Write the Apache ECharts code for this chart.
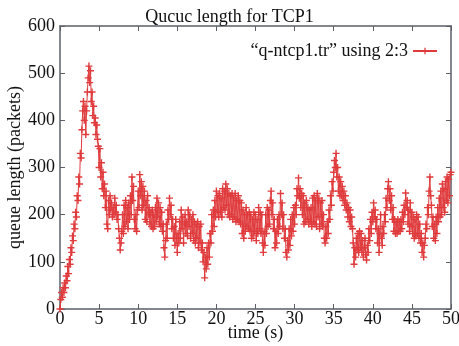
<!DOCTYPE html>
<html>
<head>
<meta charset="utf-8">
<script src="https://cdn.jsdelivr.net/npm/echarts@6/dist/echarts.min.js"></script>
<style>html,body{margin:0;padding:0;background:#fff;}#c{width:459px;height:346px;}</style>
</head>
<body>
<div id="c"></div>
<script>
const titleText = 'Qucuc length for TCP1';
const seriesName = '\u201cq-ntcp1.tr\u201d using 2:3';
const xTicks = [0,5,10,15,20,25,30,35,40,45,50];
const yTicks = [0,100,200,300,400,500,600];
const times = [
0,0.1,0.2,0.3,0.4,0.5,0.6,0.7,0.8,0.9,1,1.1,1.2,1.3,1.4,1.5,1.6,1.7,1.8,1.9,
2,2.1,2.2,2.3,2.4,2.5,2.6,2.7,2.8,2.9,3,3.1,3.2,3.3,3.4,3.5,3.6,3.7,3.8,3.9,
4,4.1,4.2,4.3,4.4,4.5,4.6,4.7,4.8,4.9,5,5.1,5.2,5.3,5.4,5.5,5.6,5.7,5.8,5.9,
6,6.1,6.2,6.3,6.4,6.5,6.6,6.7,6.8,6.9,7,7.1,7.2,7.3,7.4,7.5,7.6,7.7,7.8,7.9,
8,8.1,8.2,8.3,8.4,8.5,8.6,8.7,8.8,8.9,9,9.1,9.2,9.3,9.4,9.5,9.6,9.7,9.8,9.9,
10,10.1,10.2,10.3,10.4,10.5,10.6,10.7,10.8,10.9,11,11.1,11.2,11.3,11.4,11.5,11.6,11.7,11.8,11.9,
12,12.1,12.2,12.3,12.4,12.5,12.6,12.7,12.8,12.9,13,13.1,13.2,13.3,13.4,13.5,13.6,13.7,13.8,13.9,
14,14.1,14.2,14.3,14.4,14.5,14.6,14.7,14.8,14.9,15,15.1,15.2,15.3,15.4,15.5,15.6,15.7,15.8,15.9,
16,16.1,16.2,16.3,16.4,16.5,16.6,16.7,16.8,16.9,17,17.1,17.2,17.3,17.4,17.5,17.6,17.7,17.8,17.9,
18,18.1,18.2,18.3,18.4,18.5,18.6,18.7,18.8,18.9,19,19.1,19.2,19.3,19.4,19.5,19.6,19.7,19.8,19.9,
20,20.1,20.2,20.3,20.4,20.5,20.6,20.7,20.8,20.9,21,21.1,21.2,21.3,21.4,21.5,21.6,21.7,21.8,21.9,
22,22.1,22.2,22.3,22.4,22.5,22.6,22.7,22.8,22.9,23,23.1,23.2,23.3,23.4,23.5,23.6,23.7,23.8,23.9,
24,24.1,24.2,24.3,24.4,24.5,24.6,24.7,24.8,24.9,25,25.1,25.2,25.3,25.4,25.5,25.6,25.7,25.8,25.9,
26,26.1,26.2,26.3,26.4,26.5,26.6,26.7,26.8,26.9,27,27.1,27.2,27.3,27.4,27.5,27.6,27.7,27.8,27.9,
28,28.1,28.2,28.3,28.4,28.5,28.6,28.7,28.8,28.9,29,29.1,29.2,29.3,29.4,29.5,29.6,29.7,29.8,29.9,
30,30.1,30.2,30.3,30.4,30.5,30.6,30.7,30.8,30.9,31,31.1,31.2,31.3,31.4,31.5,31.6,31.7,31.8,31.9,
32,32.1,32.2,32.3,32.4,32.5,32.6,32.7,32.8,32.9,33,33.1,33.2,33.3,33.4,33.5,33.6,33.7,33.8,33.9,
34,34.1,34.2,34.3,34.4,34.5,34.6,34.7,34.8,34.9,35,35.1,35.2,35.3,35.4,35.5,35.6,35.7,35.8,35.9,
36,36.1,36.2,36.3,36.4,36.5,36.6,36.7,36.8,36.9,37,37.1,37.2,37.3,37.4,37.5,37.6,37.7,37.8,37.9,
38,38.1,38.2,38.3,38.4,38.5,38.6,38.7,38.8,38.9,39,39.1,39.2,39.3,39.4,39.5,39.6,39.7,39.8,39.9,
40,40.1,40.2,40.3,40.4,40.5,40.6,40.7,40.8,40.9,41,41.1,41.2,41.3,41.4,41.5,41.6,41.7,41.8,41.9,
42,42.1,42.2,42.3,42.4,42.5,42.6,42.7,42.8,42.9,43,43.1,43.2,43.3,43.4,43.5,43.6,43.7,43.8,43.9,
44,44.1,44.2,44.3,44.4,44.5,44.6,44.7,44.8,44.9,45,45.1,45.2,45.3,45.4,45.5,45.6,45.7,45.8,45.9,
46,46.1,46.2,46.3,46.4,46.5,46.6,46.7,46.8,46.9,47,47.1,47.2,47.3,47.4,47.5,47.6,47.7,47.8,47.9,
48,48.1,48.2,48.3,48.4,48.5,48.6,48.7,48.8,48.9,49,49.1,49.2,49.3,49.4,49.5,49.6,49.7,49.8,49.9,
50];
const queue = [
0,20,35,25,45,35,55,45,70,60, 90,75,105,95,130,120,155,145,180,170,
205,195,240,230,280,265,330,320,380,420, 440,400,430,370,420,460,490,515,480,505,
440,460,410,430,395,405,370,390,360,345, 300,340,280,310,255,290,240,265,215,250,
180,170,230,200,240,210,225,195,215,200, 235,205,220,190,200,170,150,125,140,165,
200,160,220,175,230,185,215,170,225,190, 240,200,280,230,260,190,170,200,165,210,
250,215,285,240,270,210,260,220,250,190, 230,185,240,200,215,180,205,175,210,170,
200,175,215,185,235,195,225,180,215,175, 205,165,180,130,110,145,180,150,210,190,
235,200,220,170,190,150,175,135,190,150, 120,160,140,185,150,210,170,195,140,180,
200,160,185,155,210,175,200,150,190,160, 200,145,185,140,180,150,185,130,175,140,
180,125,140,100,120,66,110,85,130,95, 140,110,160,140,200,165,210,175,230,195,
250,205,240,195,245,205,235,195,255,215, 250,210,265,220,255,200,245,195,240,200,
245,190,235,195,245,185,230,190,240,185, 230,180,225,160,210,150,200,165,215,175,
200,170,205,165,200,150,190,155,205,165, 200,145,190,160,215,170,205,160,200,140,
120,165,135,200,160,215,175,210,180,230, 250,200,225,170,190,130,165,140,190,160,
200,175,245,200,225,170,200,150,170,120, 110,145,125,170,135,190,155,200,165,215,
180,220,200,255,240,278,235,255,215,245, 200,240,180,225,185,230,190,215,180,210,
185,215,175,235,185,240,180,230,175,245, 195,235,170,225,180,230,175,200,150,140,
175,150,185,160,210,190,240,220,270,250, 290,315,300,330,280,300,250,280,240,270,
240,260,230,250,220,240,210,225,195,215, 185,210,175,195,170,140,95,130,110,150,
125,160,120,165,130,160,120,145,110,130, 150,115,104,135,120,170,145,190,160,205,
185,225,195,210,170,190,140,170,120,160, 200,150,135,175,160,200,185,235,215,255,
270,230,255,210,240,190,215,165,190,160, 185,160,190,165,185,165,190,170,205,185,
220,200,246,215,230,180,210,165,225,175, 205,160,195,150,190,155,200,160,195,150,
180,140,160,120,140,110,135,150,180,170, 215,200,250,280,240,220,175,195,150,180,
145,195,160,215,185,235,195,250,200,265, 215,255,205,270,230,280,225,275,240,285,
290];

const font = 'Liberation Serif';
const red = '#df3a3c';
const axisCol = '#5b6068';
const pts = times.map((t, i) => [t, queue[i]]);

const chart = echarts.init(document.getElementById('c'), null, {renderer: 'canvas'});
const axisBase = {
  axisLine: {show: true, onZero: false, lineStyle: {color: axisCol, width: 1.5}},
  axisTick: {show: true, inside: true, length: 5, lineStyle: {color: axisCol, width: 1}},
  splitLine: {show: false}
};
chart.setOption({
  animation: false,
  backgroundColor: '#fff',
  title: {
    text: titleText, left: 'center', top: 3,
    textStyle: {fontFamily: font, fontSize: 18, fontWeight: 'normal', color: '#111'}
  },
  legend: {
    right: 16, top: 37, align: 'right', itemWidth: 24, itemHeight: 8,
    textStyle: {fontFamily: font, fontSize: 18, color: '#111'},
    data: [seriesName]
  },
  grid: {left: 60, right: 8, top: 26, bottom: 37, containLabel: false, outerBoundsMode: 'none'},
  xAxis: [
    Object.assign({
      type: 'value', min: xTicks[0], max: xTicks[xTicks.length-1], interval: 5,
      position: 'bottom',
      name: 'time (s)', nameLocation: 'middle', nameGap: 15, nameMoveOverlap: false,
      nameTextStyle: {fontFamily: font, fontSize: 18, color: '#111'},
      axisLabel: {fontFamily: font, fontSize: 18, color: '#111', margin: 1}
    }, axisBase),
    Object.assign({
      type: 'value', min: 0, max: 50, interval: 5, position: 'top',
      axisLabel: {show: false}
    }, axisBase)
  ],
  yAxis: [
    Object.assign({
      type: 'value', min: yTicks[0], max: yTicks[yTicks.length-1], interval: 100,
      position: 'left',
      name: 'queue length (packets)', nameLocation: 'middle', nameGap: 36, nameMoveOverlap: false,
      nameTextStyle: {fontFamily: font, fontSize: 18, color: '#111'},
      axisLabel: {fontFamily: font, fontSize: 18, color: '#111', margin: 5}
    }, axisBase),
    Object.assign({
      type: 'value', min: 0, max: 600, interval: 100, position: 'right',
      axisLabel: {show: false}
    }, axisBase)
  ],
  series: [{
    name: seriesName,
    type: 'line',
    xAxisIndex: 0, yAxisIndex: 0,
    data: pts,
    showSymbol: true, showAllSymbol: true,
    symbol: 'path://M4,0H6V4H10V6H6V10H4V6H0V4H4Z',
    symbolSize: 7,
    itemStyle: {color: red},
    lineStyle: {color: red, width: 1},
    z: 1
  }]
});
</script>
</body>
</html>
